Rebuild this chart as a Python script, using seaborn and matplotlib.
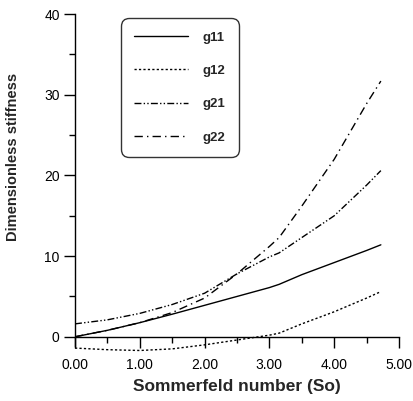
import numpy as np
import pandas as pd
import matplotlib
matplotlib.use("Agg")
import matplotlib.pyplot as plt
import seaborn as sns
from matplotlib.ticker import MultipleLocator, FormatStrFormatter
from matplotlib.lines import Line2D

# Data
so = [0.0, 0.5, 1.0, 1.5, 2.0, 2.5, 3.0, 3.15, 3.5, 4.0, 4.5, 4.72]
g11 = [0.0, 0.8, 1.75, 2.8, 3.9, 5.0, 6.1, 6.5, 7.7, 9.2, 10.7, 11.4]
g12 = [-1.4, -1.6, -1.7, -1.5, -1.0, -0.4, 0.2, 0.45, 1.6, 3.1, 4.8, 5.6]
g21 = [1.6, 2.1, 2.9, 4.0, 5.4, 7.8, 9.9, 10.4, 12.3, 15.0, 18.8, 20.6]
g22 = [0.0, 0.8, 1.75, 3.0, 4.8, 7.8, 11.2, 12.3, 16.2, 22.0, 28.9, 31.7]
series_names = ["g11", "g12", "g21", "g22"]
x_ticks = [0, 1, 2, 3, 4, 5]
y_ticks = [0, 10, 20, 30, 40]

sns.set_theme(style="white")
plt.rcParams["font.family"] = ["Liberation Sans", "DejaVu Sans"]

df = pd.DataFrame({"So": so * 4,
                   "value": g11 + g12 + g21 + g22,
                   "series": sum([[n] * len(so) for n in series_names], [])})

fig = plt.figure(figsize=(4.13, 4.01), dpi=100)
ax = fig.add_axes([0.1816, 0.0998, 0.7845, 0.865])

dash_map = {"g11": "", "g12": (1.6, 1.6), "g21": (5, 1.6, 1, 1.6, 1, 1.6),
            "g22": (6, 3, 1, 3)}
sns.lineplot(data=df, x="So", y="value", style="series", dashes=dash_map,
             color="black", linewidth=1.0, ax=ax, legend=False)

handles = []
for n in series_names:
    h = Line2D([], [], color="black", lw=1.0, linestyle="-")
    if dash_map[n]:
        h.set_dashes(dash_map[n])
    handles.append(h)
leg = ax.legend(handles, series_names, loc="upper left",
                bbox_to_anchor=(0.142, 0.988), borderaxespad=0.0,
                frameon=True, fancybox=True,
                handlelength=4.1, handletextpad=1.1, labelspacing=1.6,
                borderpad=1.0, prop={"weight": "bold", "size": 9.5})
leg.get_frame().set_edgecolor("black")
leg.get_frame().set_linewidth(1.0)
leg.get_frame().set_boxstyle("round,pad=0.0,rounding_size=0.6")

ax.set_xlim(0, 5)
ax.set_ylim(-3, 40)
ax.spines["top"].set_visible(False)
ax.spines["right"].set_visible(False)
ax.spines["bottom"].set_position(("data", 0))
ax.spines["left"].set_bounds(-1.2, 40)
for s in ["left", "bottom"]:
    ax.spines[s].set_color("black")
    ax.spines[s].set_linewidth(1.0)

ax.set_xticks(x_ticks)
ax.xaxis.set_major_formatter(FormatStrFormatter("%.2f"))
ax.xaxis.set_minor_locator(MultipleLocator(0.5))
ax.set_yticks(y_ticks)
ax.yaxis.set_minor_locator(MultipleLocator(5))
ax.tick_params(axis="both", which="major", direction="out", length=8,
               width=1.0, color="black", labelsize=10, labelcolor="black")
ax.tick_params(axis="both", which="minor", direction="out", length=4,
               width=1.0, color="black")
ax.tick_params(axis="x", which="major", pad=7)
ax.tick_params(axis="y", which="major", pad=3)
ax.tick_params(axis="both", which="both", bottom=True, left=True)

ax.set_xlabel("Sommerfeld number (So)", fontsize=12.5, fontweight="bold")
ax.set_ylabel("Dimensionless stiffness", fontsize=10.5, fontweight="bold")
ax.xaxis.set_label_coords(0.5, -0.052)
ax.yaxis.set_label_coords(-0.17, 0.588)
ax.grid(False)

fig.savefig("out.png", dpi=100)
